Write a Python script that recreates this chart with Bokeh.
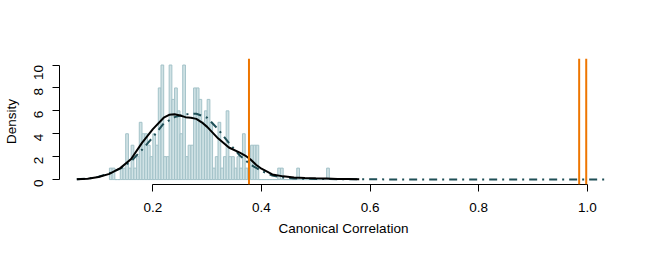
import math
import numpy as np
from bokeh.plotting import figure
from bokeh.models import Range1d, FixedTicker, Span, ColumnDataSource
from bokeh.embed import file_html
from bokeh.resources import INLINE

# ---- data ----
bin_start = 0.12
bin_width = 0.005
hist_density = [1, 1, 0, 0, 1, 1, 4, 1, 3, 1,
                2, 5, 4, 4, 3, 2, 4, 3, 8, 10,
                2, 2, 10, 7, 8, 6, 4, 10, 2, 3,
                3, 8, 8, 7, 5, 6, 7, 5, 1, 2,
                5, 1, 2, 6, 2, 2, 1, 2, 1, 4,
                1, 1, 3, 3, 3,
                0, 0, 0, 0, 0, 0, 0, 1, 1, 0,
                0, 0, 0, 0, 1, 0, 0, 0, 0, 0,
                0, 0, 0, 0, 0, 1]

kde_x = [0.06, 0.08, 0.10, 0.12, 0.14, 0.16, 0.18, 0.20, 0.22, 0.23,
         0.24, 0.25, 0.26, 0.27, 0.28, 0.29, 0.30, 0.31, 0.32, 0.34,
         0.36, 0.37, 0.38, 0.39, 0.40, 0.42, 0.44, 0.46, 0.48, 0.50,
         0.52, 0.54, 0.56, 0.58]
kde_y = [0.02, 0.08, 0.22, 0.5, 1.0, 1.8, 3.2, 4.4, 5.4, 5.65,
         5.7, 5.6, 5.45, 5.4, 5.3, 5.0, 4.6, 4.1, 3.6, 2.8,
         2.35, 2.1, 1.75, 1.3, 0.95, 0.45, 0.28, 0.18, 0.14, 0.11,
         0.09, 0.06, 0.04, 0.02]

ref_x = [0.06, 0.08, 0.10, 0.12, 0.14, 0.16, 0.18, 0.20, 0.22, 0.24,
         0.26, 0.28, 0.30, 0.32, 0.34, 0.36, 0.38, 0.40, 0.42, 0.44,
         0.46, 0.50, 0.55, 0.60, 0.70, 0.80, 0.90, 1.00, 1.04]
ref_y = [0.02, 0.08, 0.25, 0.55, 0.95, 1.6, 2.6, 3.7, 4.9, 5.45,
         5.7, 5.75, 5.4, 4.4, 3.2, 2.1, 1.3, 0.75, 0.35, 0.18,
         0.1, 0.05, 0.03, 0.02, 0.01, 0.01, 0.01, 0.01, 0.01]

observed = [0.377, 0.985, 0.998]

x_ticks = [0.2, 0.4, 0.6, 0.8, 1.0]
x_tick_labels = ["0.2", "0.4", "0.6", "0.8", "1.0"]
y_ticks = [0, 2, 4, 6, 8, 10]
y_tick_labels = ["0", "2", "4", "6", "8", "10"]

FONT = "Liberation Sans"
FSIZE = "13.5px"

p = figure(width=648, height=248, output_backend="svg", toolbar_location=None,
           x_range=Range1d(0.0281, 1.074), y_range=Range1d(-0.43, 10.57),
           min_border_left=58, min_border_right=21, min_border_top=58,
           min_border_bottom=64)
p.outline_line_color = None
p.xgrid.visible = False
p.ygrid.visible = False
p.background_fill_color = "white"

n = len(hist_density)
lefts = np.round(bin_start + bin_width * np.arange(n), 4)
src = ColumnDataSource(dict(left=lefts, right=lefts + bin_width,
                            top=hist_density, bottom=[0] * n))
p.quad(left="left", right="right", top="top", bottom="bottom", source=src,
       fill_color="#d0e2e5", line_color="#a3c2c8", line_width=1)

p.line(ref_x, ref_y, line_color="#1f4f57", line_width=2, line_dash="8 5 2 5")
p.line(kde_x, kde_y, line_color="black", line_width=2)

for v in observed:
    p.add_layout(Span(location=v, dimension="height", line_color="#ee7600",
                      line_width=2))

# x axis
xa = p.xaxis[0]
xa.ticker = FixedTicker(ticks=x_ticks)
xa.major_label_overrides = {t: l for t, l in zip(x_ticks, x_tick_labels)}
xa.bounds = (x_ticks[0], x_ticks[-1])
xa.axis_label = "Canonical Correlation"
ya = p.yaxis[0]
ya.ticker = FixedTicker(ticks=y_ticks)
ya.major_label_overrides = {t: l for t, l in zip(y_ticks, y_tick_labels)}
ya.bounds = (y_ticks[0], y_ticks[-1])
ya.axis_label = "Density"
ya.major_label_orientation = math.pi / 2

for ax in (xa, ya):
    ax.minor_tick_line_color = None
    ax.major_tick_out = 7
    ax.major_tick_in = 0
    ax.axis_line_color = "black"
    ax.major_tick_line_color = "black"
    ax.major_label_text_font = FONT
    ax.major_label_text_font_size = FSIZE
    ax.major_label_text_color = "black"
    ax.axis_label_text_font = FONT
    ax.axis_label_text_font_size = FSIZE
    ax.axis_label_text_font_style = "normal"
    ax.axis_label_text_color = "black"

xa.major_label_standoff = 11
xa.axis_label_standoff = 6
ya.major_label_standoff = 14
ya.axis_label_standoff = 8

open("out.html", "w").write(file_html(p, INLINE))
